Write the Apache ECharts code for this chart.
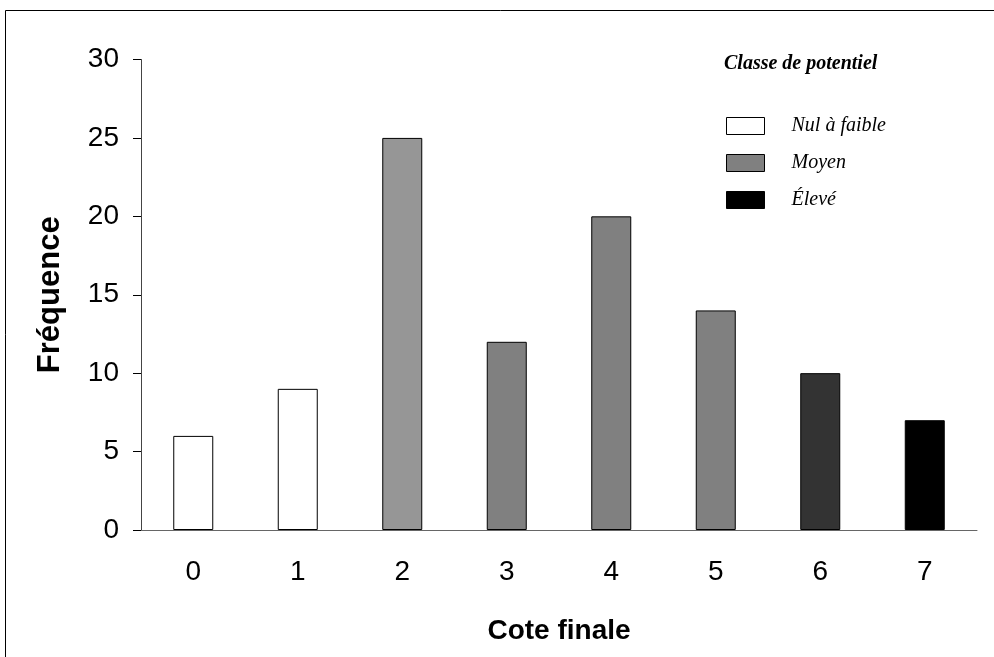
<!DOCTYPE html>
<html>
<head>
<meta charset="utf-8">
<script src="https://cdn.jsdelivr.net/npm/echarts@6/dist/echarts.min.js"></script>
<style>
html,body{margin:0;padding:0;background:#fff;}
#chart{width:994px;height:657px;}
</style>
</head>
<body>
<div id="chart"></div>
<script>
const categories = ['0','1','2','3','4','5','6','7'];
const values = [6, 9, 25, 12, 20, 14, 10, 7];
const barClass = ['Nul à faible','Nul à faible','Moyen','Moyen','Moyen','Moyen','Élevé','Élevé'];
const barColors = ['#ffffff','#ffffff','#969696','#808080','#808080','#808080','#333333','#000000'];
const classNames = ['Nul à faible','Moyen','Élevé'];
const classColors = ['#ffffff','#808080','#000000'];
const yTicks = [0, 5, 10, 15, 20, 25, 30];

const chart = echarts.init(document.getElementById('chart'));

const series = classNames.map((name, ci) => ({
  name: name,
  type: 'bar',
  stack: 'all',
  barWidth: 40,
  itemStyle: { color: classColors[ci], borderColor: '#000', borderWidth: 1 },
  data: values.map((v, i) => barClass[i] === name
    ? { value: v, itemStyle: { color: barColors[i], borderColor: '#000', borderWidth: 1 } }
    : null)
}));

chart.setOption({
  animation: false,
  backgroundColor: '#fff',
  grid: { left: 141, right: 17, top: 59.5, bottom: 127, containLabel: false, outerBoundsMode: 'none' },
  title: {
    text: 'Classe de potentiel',
    left: 724, top: 54, padding: 0,
    textStyle: { fontFamily: 'Liberation Serif', fontStyle: 'italic', fontWeight: 'bold', fontSize: 20, color: '#000' }
  },
  legend: {
    orient: 'vertical',
    left: 726, top: 116, padding: 0,
    itemWidth: 38, itemHeight: 17,
    itemGap: 17,
    icon: 'rect',
    data: classNames,
    itemStyle: { borderColor: '#000', borderWidth: 1 },
    textStyle: { fontFamily: 'Liberation Serif', fontStyle: 'italic', fontSize: 20, color: '#000', padding: [0, 0, 7, 22] },
    selectedMode: false
  },
  xAxis: {
    type: 'category',
    data: categories,
    name: 'Cote finale',
    nameLocation: 'middle',
    nameGap: 87,
    nameTextStyle: { fontFamily: 'Liberation Sans', fontWeight: 'bold', fontSize: 28, color: '#000' },
    axisLine: { lineStyle: { color: '#666', width: 1 } },
    axisTick: { show: false },
    axisLabel: { fontFamily: 'Liberation Sans', fontSize: 28, color: '#000', margin: 28 }
  },
  yAxis: {
    type: 'value',
    min: yTicks[0], max: yTicks[yTicks.length - 1], interval: 5,
    name: 'Fréquence',
    nameLocation: 'middle',
    nameGap: 75,
    nameTextStyle: { fontFamily: 'Liberation Sans', fontWeight: 'bold', fontSize: 31, color: '#000' },
    axisLine: { show: true, lineStyle: { color: '#444', width: 1 } },
    axisTick: { show: true, length: 8, lineStyle: { color: '#000' } },
    splitLine: { show: false },
    axisLabel: { fontFamily: 'Liberation Sans', fontSize: 28, color: '#000', margin: 22 }
  },
  graphic: [{
    type: 'rect',
    shape: { x: 5.5, y: 10.5, width: 1200, height: 900 },
    style: { fill: null, stroke: '#000', lineWidth: 1 },
    silent: true, z: -1
  }],
  series: series
});
</script>
</body>
</html>
